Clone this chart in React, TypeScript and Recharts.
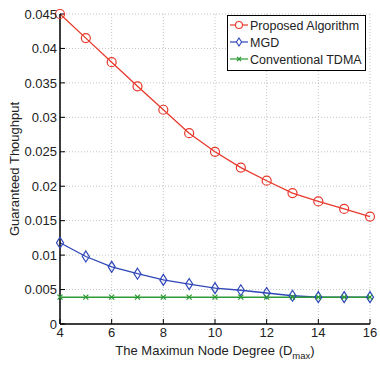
import React from "react";
import { LineChart, Line, XAxis, YAxis, CartesianGrid } from "recharts";

const degrees = [4, 5, 6, 7, 8, 9, 10, 11, 12, 13, 14, 15, 16];
const proposed = [0.045, 0.0415, 0.038, 0.0345, 0.0311, 0.0277, 0.025, 0.0227, 0.0208, 0.019, 0.0178, 0.0167, 0.0156];
const mgd = [0.0118, 0.0098, 0.0083, 0.0073, 0.0064, 0.0058, 0.0052, 0.0049, 0.0045, 0.0041, 0.0039, 0.0039, 0.0039];
const tdma = [0.0039, 0.0039, 0.0039, 0.0039, 0.0039, 0.0039, 0.0039, 0.0039, 0.0039, 0.0039, 0.0039, 0.0039, 0.0039];
const xTicks = [4, 6, 8, 10, 12, 14, 16];
const yTicks = [0, 0.005, 0.01, 0.015, 0.02, 0.025, 0.03, 0.035, 0.04, 0.045];
const seriesNames = ["Proposed Algorithm", "MGD", "Conventional TDMA"];

const RED = "#e8392c";
const BLUE = "#2f47b8";
const GREEN = "#2e9a35";
const FONT = "Liberation Sans, Arial, sans-serif";

const data = degrees.map((d, i) => ({ d, p: proposed[i], m: mgd[i], t: tdma[i] }));

const CircleDot = (props: any) => {
  const { cx, cy } = props;
  if (cx == null || cy == null) return null;
  return <circle cx={cx} cy={cy} r={4.5} fill="none" stroke={RED} strokeWidth={1.2} />;
};
const DiamondDot = (props: any) => {
  const { cx, cy } = props;
  if (cx == null || cy == null) return null;
  return (
    <path d={`M${cx},${cy - 5.5}L${cx + 3.5},${cy}L${cx},${cy + 5.5}L${cx - 3.5},${cy}Z`} fill="none" stroke={BLUE} strokeWidth={1.2} />
  );
};
const CrossDot = (props: any) => {
  const { cx, cy } = props;
  if (cx == null || cy == null) return null;
  return (
    <path d={`M${cx - 2.5},${cy - 2.5}L${cx + 2.5},${cy + 2.5}M${cx - 2.5},${cy + 2.5}L${cx + 2.5},${cy - 2.5}`} stroke={GREEN} strokeWidth={1.3} />
  );
};

const LegendBox = () => {
  const items = [
    { name: seriesNames[0], color: RED, mark: "c" },
    { name: seriesNames[1], color: BLUE, mark: "d" },
    { name: seriesNames[2], color: GREEN, mark: "x" },
  ];
  return (
    <svg width={140} height={57} style={{ display: "block" }}>
      <rect x={0.5} y={0.5} width={138} height={55} fill="#fff" stroke="#000" strokeWidth={1} />
      {items.map((it, i) => {
        const y = 10 + i * 17;
        const cx = 12;
        return (
          <g key={i}>
            <line x1={3} x2={21} y1={y} y2={y} stroke={it.color} strokeWidth={1.2} />
            {it.mark === "c" && <circle cx={cx} cy={y} r={3.5} fill="#fff" stroke={it.color} strokeWidth={1.1} />}
            {it.mark === "d" && <path d={`M${cx},${y - 4}L${cx + 2.6},${y}L${cx},${y + 4}L${cx - 2.6},${y}Z`} fill="#fff" stroke={it.color} strokeWidth={1.1} />}
            {it.mark === "x" && <path d={`M${cx - 2},${y - 2}L${cx + 2},${y + 2}M${cx - 2},${y + 2}L${cx + 2},${y - 2}`} stroke={it.color} strokeWidth={1.2} />}
            <text x={23} y={y + 4.5} fontSize={12.5} fontFamily={FONT} fill="#222">{it.name}</text>
          </g>
        );
      })}
    </svg>
  );
};

const XLabel = (props: any) => {
  const vb = props.viewBox || {};
  const cx = vb.x + vb.width / 2;
  return (
    <text x={cx} y={355} textAnchor="middle" fontSize={13} fontFamily={FONT} fill="#222">
      The Maximun Node Degree (D
      <tspan fontSize={9.5} dy={4}>max</tspan>
      <tspan dy={-4}>)</tspan>
    </text>
  );
};

const YLabel = (props: any) => {
  const vb = props.viewBox || {};
  const cy = vb.y + vb.height / 2;
  return (
    <text x={19} y={cy} transform={`rotate(-90, 19, ${cy})`} textAnchor="middle" fontSize={13} fontFamily={FONT} fill="#222">
      Guaranteed Thoughput
    </text>
  );
};

const fmt = (v: number) => String(+v.toFixed(3));

export default function App() {
  return (
    <div style={{ position: "absolute", left: 0, top: 0, width: 380, height: 367, background: "#fff" }}>
      <LineChart width={380} height={367} data={data} margin={{ top: 14, right: 10, bottom: 13, left: 8 }}>
        <CartesianGrid stroke="#b5b5b5" strokeDasharray="1 2" strokeWidth={0.8} />
        <XAxis
          dataKey="d"
          type="number"
          domain={[4, 16]}
          ticks={xTicks}
          height={30}
          axisLine={{ stroke: "#000", strokeWidth: 1.5 }}
          tickLine={{ stroke: "#000" }}
          tickSize={-5}
          tickMargin={9}
          tick={{ fontSize: 13, fontFamily: FONT, fill: "#222" }}
          label={<XLabel />}
        />
        <XAxis
          xAxisId="top"
          dataKey="d"
          type="number"
          domain={[4, 16]}
          ticks={xTicks}
          orientation="top"
          height={0}
          axisLine={{ stroke: "#000", strokeWidth: 1.5 }}
          tickLine={{ stroke: "#000" }}
          tickSize={-5}
          tick={false}
        />
        <YAxis
          type="number"
          domain={[0, 0.045]}
          ticks={yTicks}
          width={52}
          axisLine={{ stroke: "#000", strokeWidth: 1.5 }}
          tickLine={{ stroke: "#000" }}
          tickSize={-5}
          tickMargin={8}
          tickFormatter={fmt}
          tick={{ fontSize: 13, fontFamily: FONT, fill: "#222" }}
          label={<YLabel />}
        />
        <YAxis
          yAxisId="right"
          orientation="right"
          type="number"
          domain={[0, 0.045]}
          ticks={yTicks}
          width={0}
          axisLine={{ stroke: "#000", strokeWidth: 1.5 }}
          tickLine={{ stroke: "#000" }}
          tickSize={-5}
          tick={false}
        />
        <Line dataKey="p" name={seriesNames[0]} stroke={RED} strokeWidth={1.3} dot={<CircleDot />} isAnimationActive={false} />
        <Line dataKey="m" name={seriesNames[1]} stroke={BLUE} strokeWidth={1.3} dot={<DiamondDot />} isAnimationActive={false} />
        <Line dataKey="t" name={seriesNames[2]} stroke={GREEN} strokeWidth={1.5} dot={<CrossDot />} isAnimationActive={false} />
      </LineChart>
      <div style={{ position: "absolute", left: 227, top: 15 }}>
        <LegendBox />
      </div>
    </div>
  );
}
